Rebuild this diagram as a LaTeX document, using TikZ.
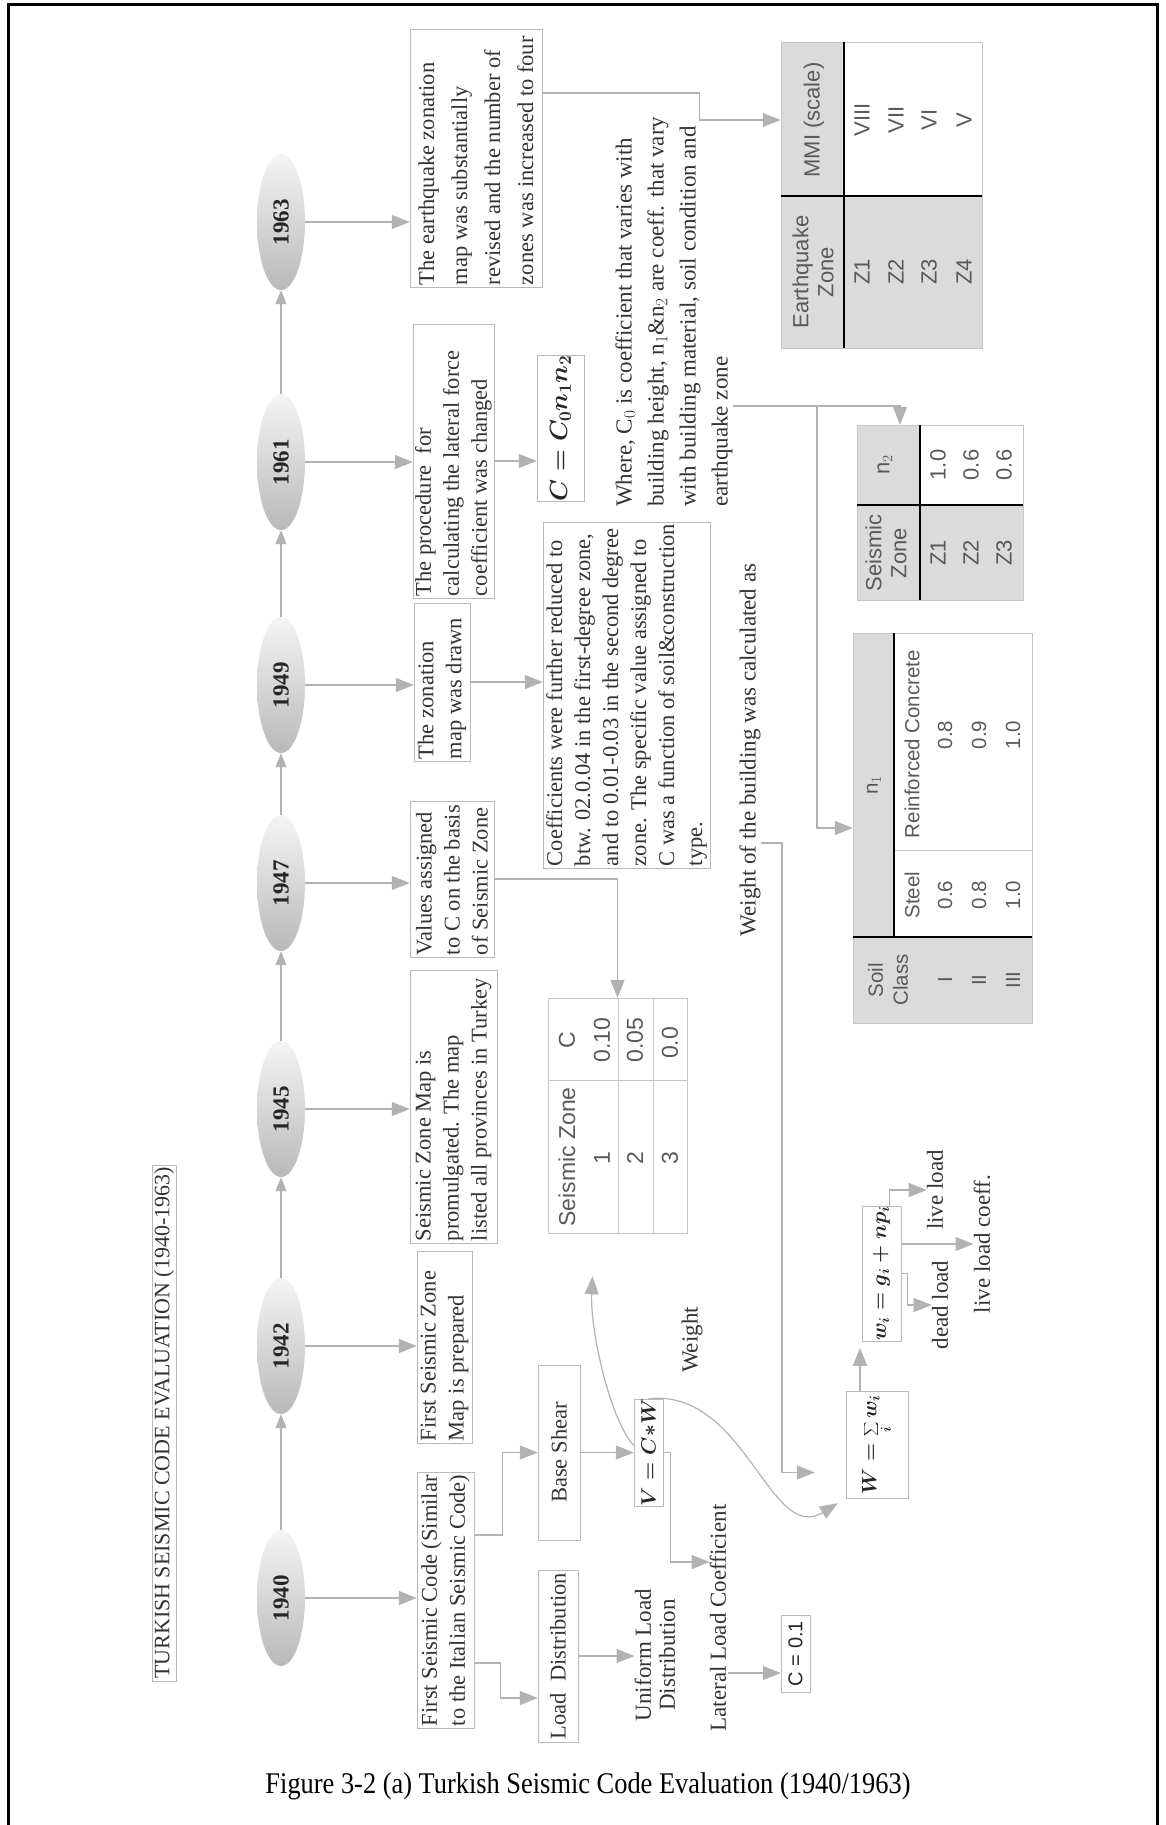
\documentclass[tikz,border=0pt]{standalone}
\usepackage{fontspec}
\setmainfont{Liberation Serif}
\setsansfont{Liberation Sans}
\usepackage{graphicx}
\usetikzlibrary{calc}
\usetikzlibrary{shapes.geometric,arrows.meta}

\begin{document}
\begin{tikzpicture}[x=1pt,y=-1pt,
  yr/.style={ellipse,rotate=90,minimum width=136pt,minimum height=48pt,inner sep=0pt,
    top color=gray!8,bottom color=gray!55,font=\bfseries\fontsize{23}{26}\selectfont,text=black!85},
  bx/.style={rotate=90,draw=gray!55,inner sep=2pt,align=flush left,font=\fontsize{22.5}{28}\selectfont,text=black!80},
  lb/.style={rotate=90,inner sep=0pt,align=center,font=\fontsize{23}{24}\selectfont,text=black!80},
  mb/.style={rotate=90,draw=gray!55,inner sep=0pt,text=black!85},
  tb/.style={rotate=90,inner sep=0pt,align=center,font=\sffamily\fontsize{22}{25}\selectfont,text=black!65},
  tab/.style={rotate=90,draw=gray!45,inner sep=0pt},
  ln/.style={draw=gray!60,line width=1.2pt},
  ar/.style={ln,-{Triangle[length=18pt,width=14pt]}},
  bk/.style={line width=2.6pt}]
\useasboundingbox (0,0) rectangle (1166,1825);
\draw[line width=3pt] (8,1825) -- (8,5) -- (1157,5) -- (1157,1825);

\node[lb,draw=gray!55,inner sep=2pt,font=\fontsize{22}{24}\selectfont] (ttl) at (164,1423) {TURKISH SEISMIC CODE EVALUATION (1940-1963)};

\node[yr] (y40) at (281,1598) {1940};
\node[yr] (y42) at (281,1346) {1942};
\node[yr] (y45) at (281,1109) {1945};
\node[yr] (y47) at (281,883) {1947};
\node[yr] (y49) at (281,685) {1949};
\node[yr] (y61) at (281,462) {1961};
\node[yr] (y63) at (281,222) {1963};
\foreach \a/\b in {y40/y42,y42/y45,y45/y47,y47/y49,y49/y61,y61/y63}
  \draw[ln,-{Triangle[length=14pt,width=11pt]}] (\a.east) -- (\b.west);

\node[bx,text width=252pt,minimum height=57pt] (b40) at (445.5,1600) {First Seismic Code (Similar\\to the Italian Seismic Code)};
\node[bx,text width=188pt,minimum height=55pt] (b42) at (444.5,1347) {First Seismic Zone\\Map is prepared};
\node[bx,text width=269pt,minimum height=87pt] (b45) at (453.5,1106.5) {Seismic Zone Map is\\promulgated. The map\\listed all provinces in Turkey};
\node[bx,text width=152pt,minimum height=84pt] (b47) at (452,879) {Values assigned\\to C on the basis\\of Seismic Zone};
\node[bx,text width=154pt,minimum height=56pt] (b49) at (442,682) {The zonation\\map was drawn};
\node[bx,text width=270pt,minimum height=81pt] (b61) at (453.5,461) {The procedure\ \ for\\calculating the lateral force\\coefficient was changed};
\node[bx,text width=254pt,minimum height=132pt,font=\fontsize{22.5}{33}\selectfont] (b63) at (476,158) {The earthquake zonation\\map was substantially\\revised and the number of\\zones was increased to four};
\foreach \y/\b in {y40/b40,y42/b42,y45/b45,y47/b47,y49/b49,y61/b61,y63/b63}
  \draw[ar] (\y.south) -- (\y.south -| \b.north);

\node[bx,text width=342pt,minimum height=167pt] (coef) at (626.5,695) {Coefficients were further reduced to\\btw. 02.0.04 in the first-degree zone,\\and to 0.01-0.03 in the second degree\\zone. The specific value assigned to\\C was a function of soil\&construction\\type.};
\node[mb,minimum width=129pt,minimum height=47pt,font=\boldmath\fontsize{24}{26}\selectfont] (form) at (560.5,428.5) {$C = C_0 n_1 n_2$};
\node[lb,align=left,anchor=west,font=\fontsize{23}{32}\selectfont] (where) at (674,507) {Where, C$_0$ is coefficient that varies with\\building height, n$_1$\&n$_2$ are coeff. that vary\\with building material, soil condition and\\earthquake zone};
\node[lb] (wtext) at (750,750) {Weight of the building was calculated as};

\node[bx,align=center,minimum width=175pt,minimum height=42pt] (bshear) at (559,1452.5) {Base Shear};
\node[bx,align=center,minimum width=172pt,minimum height=40pt] (ldist) at (558,1656) {Load\ \ Distribution};
\node[mb,minimum width=105pt,minimum height=29pt,font=\boldmath\fontsize{22}{24}\selectfont] (vcw) at (648.5,1452.5) {$V = C{*}W$};
\node[lb] (unif) at (655,1655) {Uniform Load\\Distribution};
\node[lb] (lat) at (718,1618) {Lateral Load Coefficient};
\node[mb,minimum width=77pt,minimum height=29pt,font=\sffamily\fontsize{20}{22}\selectfont] (cbox) at (795.5,1653.5) {C = 0.1};
\node[lb] (wgt) at (692,1340) {Weight};
\node[mb,minimum width=107pt,minimum height=62pt,font=\boldmath\fontsize{22}{24}\selectfont] (wbox) at (877,1444.5) {$\displaystyle W=\sum_i w_i$};
\node[mb,minimum width=117pt,minimum height=39pt,font=\boldmath\fontsize{22}{24}\selectfont] (wibox) at (881.5,1273.5) {$w_i = g_i + np_i$};
\node[lb] (dead) at (940,1305) {dead load};
\node[lb] (live) at (935,1190) {live load};
\node[lb] (llc) at (982,1244) {live load coeff.};

% Seismic Zone / C
\node[tab,minimum width=235pt,minimum height=139pt] (ctab) at (617.5,1115.5) {};
\draw[gray!45] (618,998) -- (618,1233) (653,998) -- (653,1233) (548,1080) -- (687,1080);
\node[tb,font=\sffamily\fontsize{23}{25}\selectfont] (c00) at (567,1157) {Seismic Zone};
\node[tb,font=\sffamily\fontsize{23}{25}\selectfont] (c01) at (567,1040) {C};
\node[tb,font=\sffamily\fontsize{23}{25}\selectfont] (c10) at (602,1158) {1};
\node[tb,font=\sffamily\fontsize{23}{25}\selectfont] (c11) at (602,1040) {0.10};
\node[tb,font=\sffamily\fontsize{23}{25}\selectfont] (c20) at (635,1158) {2};
\node[tb,font=\sffamily\fontsize{23}{25}\selectfont] (c21) at (635,1040) {0.05};
\node[tb,font=\sffamily\fontsize{23}{25}\selectfont] (c30) at (670,1158) {3};
\node[tb,font=\sffamily\fontsize{23}{25}\selectfont] (c31) at (670,1043) {0.0};

% MMI
\fill[gray!28] (781,42) rectangle (844,348) (844,196) rectangle (982,348);
\node[tab,minimum width=306pt,minimum height=201pt] (mmi) at (881.5,195) {};
\draw[bk] (844,42) -- (844,348) (781,196) -- (982,196);
\node[tb] (m00) at (813,272) {Earthquake\\Zone};
\node[tb] (m01) at (814,120) {MMI (scale)};
\node[tb] (m10) at (862,272) {Z1}; \node[tb] (m11) at (862,120) {VIII};
\node[tb] (m20) at (896,272) {Z2}; \node[tb] (m21) at (896,120) {VII};
\node[tb] (m30) at (929,272) {Z3}; \node[tb] (m31) at (929,120) {VI};
\node[tb] (m40) at (964,272) {Z4}; \node[tb] (m41) at (964,120) {V};

% n2
\fill[gray!28] (857,425) rectangle (920,600) (920,505) rectangle (1023,600);
\node[tab,minimum width=175pt,minimum height=166pt] (ntwo) at (940,512.5) {};
\draw[bk] (920,425) -- (920,600) (857,505) -- (1023,505);
\node[tb] (p00) at (886,553) {Seismic\\Zone};
\node[tb] (p01) at (885,465) {n$_2$};
\node[tb] (p10) at (938,553) {Z1}; \node[tb] (p11) at (938,465) {1.0};
\node[tb] (p20) at (971,553) {Z2}; \node[tb] (p21) at (971,465) {0.6};
\node[tb] (p30) at (1004,553) {Z3}; \node[tb] (p31) at (1004,465) {0.6};

% n1
\fill[gray!28] (853,633) rectangle (894,937) (853,937) rectangle (1032,1023);
\node[tab,minimum width=390pt,minimum height=179pt] (none) at (942.5,828) {};
\draw[gray!45] (894,850) -- (1032,850);
\draw[bk] (894,633) -- (894,937) (853,937) -- (1032,937);
\node[tb,font=\sffamily\fontsize{20.5}{25}\selectfont] (q00) at (888,980) {Soil\\Class};
\node[tb,font=\sffamily\fontsize{20.5}{25}\selectfont] (q01) at (874,785) {n$_1$};
\node[tb,font=\sffamily\fontsize{20.5}{25}\selectfont] (q02) at (912,895) {Steel};
\node[tb,font=\sffamily\fontsize{20.5}{25}\selectfont] (q03) at (912,744) {Reinforced Concrete};
\node[tb,font=\sffamily\fontsize{20.5}{25}\selectfont] (q10) at (945,980) {I};
\node[tb,font=\sffamily\fontsize{20.5}{25}\selectfont] (q11) at (945,895) {0.6};
\node[tb,font=\sffamily\fontsize{20.5}{25}\selectfont] (q12) at (945,735) {0.8};
\node[tb,font=\sffamily\fontsize{20.5}{25}\selectfont] (q20) at (979,980) {II};
\node[tb,font=\sffamily\fontsize{20.5}{25}\selectfont] (q21) at (979,895) {0.8};
\node[tb,font=\sffamily\fontsize{20.5}{25}\selectfont] (q22) at (979,735) {0.9};
\node[tb,font=\sffamily\fontsize{20.5}{25}\selectfont] (q30) at (1013,980) {III};
\node[tb,font=\sffamily\fontsize{20.5}{25}\selectfont] (q31) at (1013,895) {1.0};
\node[tb,font=\sffamily\fontsize{20.5}{25}\selectfont] (q32) at (1013,735) {1.0};

% connectors
\draw[ar] ($(b63.south)+(0,-65)$) -- ++(157,0) |- ($(mmi.north)+(0,-75)$);
\draw[ar] (b61.south) -- (b61.south -| form.north);
\draw[ar] (b49.south) -- (b49.south -| coef.north);
\draw[ar] (b47.south) -| (ctab.east);
\coordinate (j1) at (817,406);
\draw[ln] (where.south |- j1) -- (j1);
\draw[ar] (j1) -| ($(ntwo.east)+(-40,0)$);
\draw[ar] (j1) |- (none.north);
\coordinate (k1) at (782,843);
\draw[ar] (wtext.south |- k1) -- (k1) |- ($(wbox.north)+(-31,28)$);

\draw[ar] ($(b40.south)+(0,-65)$) -- ++(28,0) |- (bshear.north);
\draw[ar] ($(b40.south)+(0,63)$) -- ++(26,0) |- ($(ldist.north)+(0,42)$);
\draw[ar] (bshear.south) -- (vcw.north);
\draw[ar] (ldist.south) -- (ldist.south -| unif.north);
\draw[ar] (vcw.south) -- ++(7,0) |- ($(lat.north)+(0,-56)$);
\draw[ar] ($(lat.south)+(2,55)$) coordinate (q) -- (q -| cbox.north);
\draw[ar] ($(vcw.north)+(0,-7)$) .. controls (610,1420) and (590,1330) .. ($(ctab.west)+(-25,43)$);
\draw[ar] (vcw.east) .. controls (745,1388) and (770,1545) .. ($(wbox.north west)+(-8,5)$);
\draw[ar] ($(wbox.east)+(-17,0)$) -- ++(0,-43);
\draw[ar] ($(wibox.east)+(8,0)$) |- (live.north);
\draw[ar] (wibox.south |- llc.north) -- (llc.north);
\draw[ar] (wibox.south) -- ++(6,0) |- (dead.north);

\node[font=\fontsize{30}{32}\selectfont] (cap) at (588,1786) {\scalebox{0.88}[1]{Figure 3-2 (a) Turkish Seismic Code Evaluation (1940/1963)}};
\end{tikzpicture}
\end{document}
